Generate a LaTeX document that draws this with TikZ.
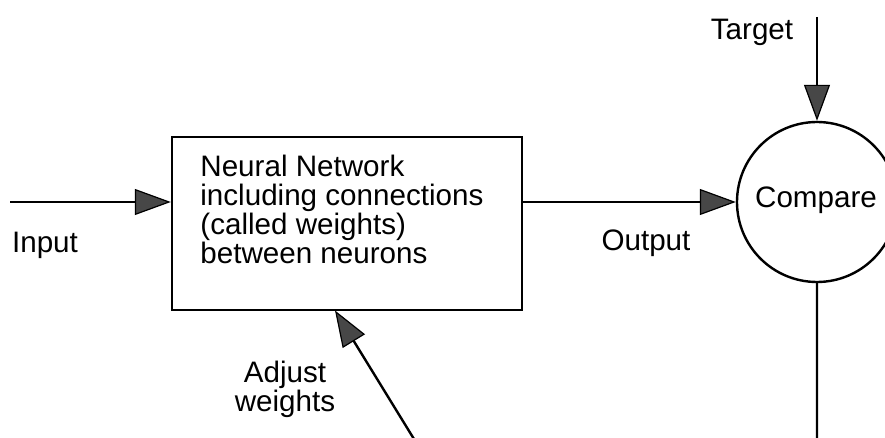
\documentclass[tikz,border=0pt]{standalone}
\usepackage{fontspec}
\setmainfont{Liberation Sans}
\usetikzlibrary{arrows.meta}
\begin{document}
\begin{tikzpicture}[x=0.5pt,y=-0.5pt,
  conn/.style={line width=1.2pt},
  arr/.style={conn,-{Triangle[length=18pt,width=13pt,fill=black!72,line width=0.6pt]}},
  lbl/.style={font=\fontsize{14.8}{14.5}\selectfont,inner sep=0pt},
  boxstyle/.style={draw,line width=1.2pt,minimum width=175pt,minimum height=86.5pt,inner sep=0pt},
  cmpstyle/.style={draw,circle,line width=1.2pt,minimum size=80pt,inner sep=0pt}]
\useasboundingbox (0,0) rectangle (885,438);
\clip (0,0) rectangle (885,438);
\node[boxstyle] (nn) at (347,223.5) {};
\node[lbl,anchor=north west,align=left] (nntext) at (200,155)
  {Neural Network\\including connections\\(called weights)\\between neurons};
\node[cmpstyle] (cmp) at (817,202) {};
\node[lbl] (cmptext) at (816,200) {Compare};
\coordinate (inp) at (10,202);
\coordinate (tgt) at (817,17);
\coordinate (low) at (817,470);
\coordinate (lowleft) at (433,470);
\draw[arr] (inp) -- (inp -| nn.west);
\draw[arr] (nn.east |- cmp.center) -- (cmp.west);
\draw[arr] (tgt) -- (cmp.north);
\draw[arr] (cmp.south) -- (low) -- (lowleft) -- (335,310.5);
\node[lbl] (inlbl) at (45,245) {Input};
\node[lbl] (outlbl) at (646,243) {Output};
\node[lbl] (tgtlbl) at (752,32) {Target};
\node[lbl,align=center] (adjlbl) at (285,389) {Adjust\\weights};
\end{tikzpicture}
\end{document}
